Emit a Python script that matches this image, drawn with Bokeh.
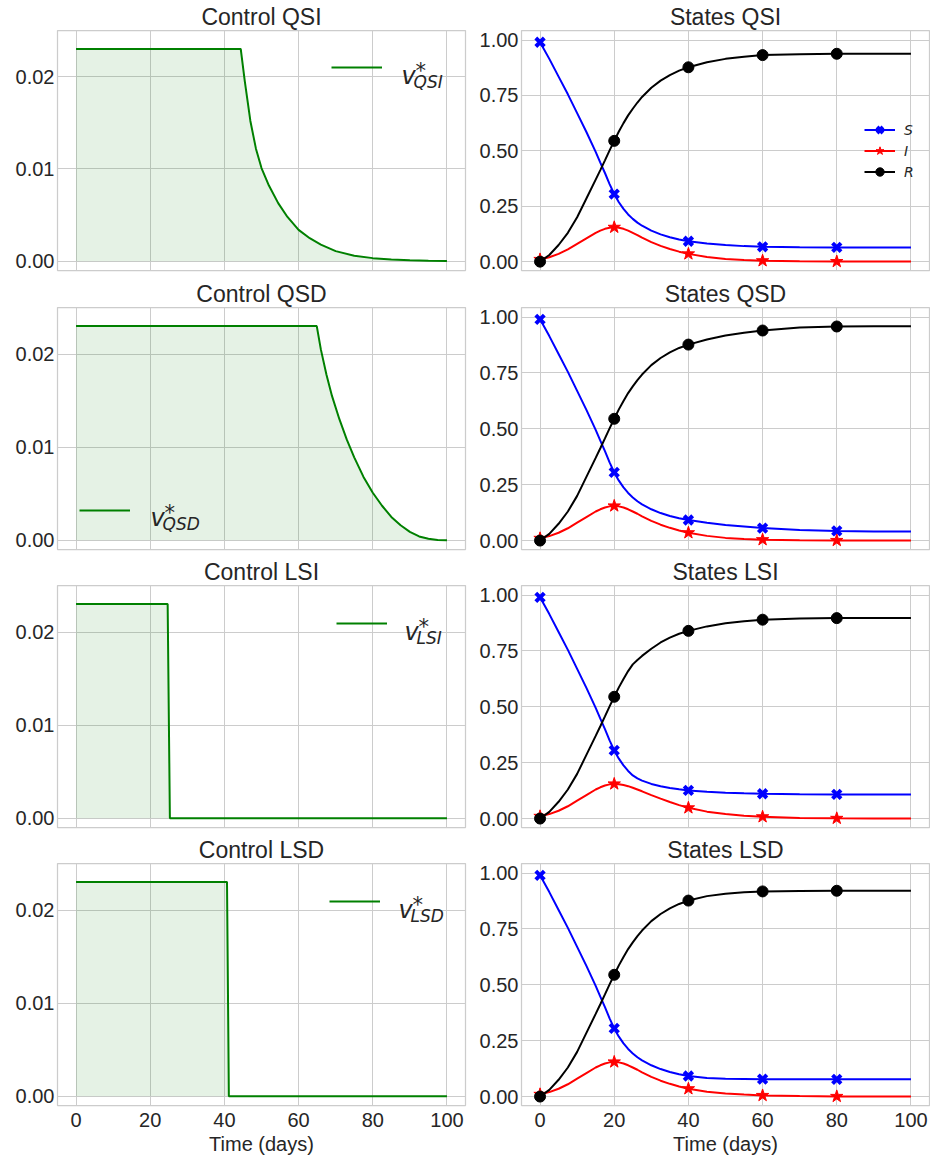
from bokeh.plotting import figure
from bokeh.layouts import column, row
from bokeh.models import (Legend, LegendItem, Label, FixedTicker,
                          NumeralTickFormatter, Range1d)
from bokeh.embed import file_html
from bokeh.resources import INLINE

# ---------------- data ----------------
t_states = [0, 2.5, 5, 7.5, 10, 12.5, 15, 16.25, 17.5, 18.75, 20, 21.25, 22.5, 23.75, 25,
            26.25, 27.5, 30, 32.5, 35, 37.5, 40, 45, 50, 55, 60, 70, 80, 90, 100]
marker_days = [0, 20, 40, 60, 80]

S_QSI = [0.99, 0.915, 0.835, 0.755, 0.67, 0.585, 0.495, 0.447, 0.40, 0.35, 0.305,
         0.268, 0.238, 0.213, 0.193, 0.176, 0.162, 0.14, 0.123, 0.11, 0.1, 0.092,
         0.082, 0.075, 0.07, 0.067, 0.065, 0.064, 0.064, 0.064]
I_QSI = [0.01, 0.02, 0.035, 0.055, 0.08, 0.105, 0.13, 0.14, 0.148, 0.153, 0.155,
         0.153, 0.148, 0.14, 0.13, 0.12, 0.108, 0.088, 0.071, 0.057, 0.045, 0.035,
         0.021, 0.012, 0.007, 0.004, 0.0015, 0.0005, 0.0002, 0.0001]
R_QSI = [0.0, 0.03, 0.075, 0.13, 0.2, 0.285, 0.37, 0.413, 0.457, 0.502, 0.545,
         0.587, 0.625, 0.66, 0.69, 0.718, 0.743, 0.785, 0.817, 0.842, 0.862, 0.877,
         0.9, 0.915, 0.925, 0.932, 0.936, 0.938, 0.938, 0.938]

S_QSD = [0.99, 0.915, 0.835, 0.755, 0.67, 0.585, 0.495, 0.447, 0.40, 0.35, 0.305,
         0.268, 0.238, 0.213, 0.193, 0.176, 0.162, 0.14, 0.123, 0.11, 0.1, 0.092,
         0.08, 0.07, 0.063, 0.056, 0.047, 0.043, 0.041, 0.041]
I_QSD = [0.01, 0.02, 0.035, 0.055, 0.08, 0.105, 0.13, 0.14, 0.148, 0.153, 0.155,
         0.153, 0.148, 0.14, 0.13, 0.12, 0.108, 0.088, 0.071, 0.057, 0.045, 0.035,
         0.021, 0.012, 0.007, 0.004, 0.0015, 0.0005, 0.0002, 0.0001]
R_QSD = [0.0, 0.03, 0.075, 0.13, 0.2, 0.285, 0.37, 0.413, 0.457, 0.502, 0.545,
         0.587, 0.625, 0.66, 0.69, 0.718, 0.743, 0.785, 0.817, 0.842, 0.862, 0.877,
         0.9, 0.918, 0.93, 0.94, 0.953, 0.958, 0.959, 0.959]

S_LSI = [0.99, 0.915, 0.835, 0.755, 0.67, 0.585, 0.495, 0.447, 0.40, 0.35, 0.305,
         0.268, 0.238, 0.213, 0.193, 0.18, 0.17, 0.155, 0.145, 0.137, 0.131, 0.126,
         0.12, 0.116, 0.113, 0.111, 0.109, 0.108, 0.108, 0.108]
I_LSI = [0.01, 0.02, 0.035, 0.055, 0.08, 0.105, 0.13, 0.14, 0.148, 0.153, 0.155,
         0.154, 0.15, 0.145, 0.138, 0.13, 0.122, 0.105, 0.089, 0.074, 0.06, 0.048,
         0.031, 0.02, 0.013, 0.008, 0.003, 0.001, 0.0004, 0.0002]
R_LSI = [0.0, 0.03, 0.075, 0.13, 0.2, 0.285, 0.37, 0.413, 0.457, 0.502, 0.545,
         0.587, 0.625, 0.66, 0.69, 0.71, 0.728, 0.76, 0.788, 0.81, 0.827, 0.84,
         0.86, 0.874, 0.883, 0.89, 0.895, 0.897, 0.898, 0.898]

S_LSD = [0.99, 0.915, 0.835, 0.755, 0.67, 0.585, 0.495, 0.447, 0.40, 0.35, 0.305,
         0.268, 0.238, 0.213, 0.193, 0.176, 0.162, 0.14, 0.123, 0.11, 0.1, 0.092,
         0.083, 0.08, 0.079, 0.078, 0.077, 0.077, 0.077, 0.077]
I_LSD = [0.01, 0.02, 0.035, 0.055, 0.08, 0.105, 0.13, 0.14, 0.148, 0.153, 0.155,
         0.153, 0.148, 0.14, 0.13, 0.12, 0.108, 0.088, 0.071, 0.057, 0.045, 0.035,
         0.022, 0.014, 0.009, 0.005, 0.002, 0.0007, 0.0003, 0.0001]
R_LSD = [0.0, 0.03, 0.075, 0.13, 0.2, 0.285, 0.37, 0.413, 0.457, 0.502, 0.545,
         0.587, 0.625, 0.66, 0.69, 0.718, 0.743, 0.785, 0.817, 0.842, 0.862, 0.877,
         0.897, 0.908, 0.914, 0.918, 0.92, 0.921, 0.921, 0.921]

t_QSI = [0, 44.4, 45.5, 47, 48.5, 50, 52, 54.5, 57, 60, 63, 66, 70, 75, 80, 85, 90, 95, 100]
v_QSI = [0.023, 0.023, 0.0195, 0.0152, 0.0122, 0.0101, 0.0082, 0.0063, 0.0048, 0.0034,
         0.0025, 0.0018, 0.0011, 0.0006, 0.00034, 0.0002, 0.0001, 0.00005, 0.00003]
t_QSD = [0, 64.9, 66, 67.5, 69, 71, 73, 75, 77.5, 80, 82.5, 85, 87.5, 90, 92.5, 95, 97.5, 100]
v_QSD = [0.023, 0.023, 0.0205, 0.0178, 0.0155, 0.013, 0.0108, 0.0089, 0.0068, 0.0051,
         0.0037, 0.0025, 0.0016, 0.0009, 0.0004, 0.00015, 0.00003, 0.0]
t_LSI = [0, 24.7, 25.3, 100]
v_LSI = [0.023, 0.023, 0.0, 0.0]
t_LSD = [0, 40.7, 41.2, 100]
v_LSD = [0.023, 0.023, 0.0, 0.0]

x_ticks = [0, 20, 40, 60, 80, 100]
control_ticks = [0.0, 0.01, 0.02]
state_ticks = [0.0, 0.25, 0.5, 0.75, 1.0]

names = ["QSI", "QSD", "LSI", "LSD"]
controls = {"QSI": (t_QSI, v_QSI), "QSD": (t_QSD, v_QSD),
            "LSI": (t_LSI, v_LSI), "LSD": (t_LSD, v_LSD)}
states = {"QSI": (S_QSI, I_QSI, R_QSI), "QSD": (S_QSD, I_QSD, R_QSD),
          "LSI": (S_LSI, I_LSI, R_LSI), "LSD": (S_LSD, I_LSD, R_LSD)}

# ---------------- style ----------------
FONT = "Liberation Sans"
MATH = "DejaVu Sans"
TXT = "#262626"
GRID = "#cccccc"
# legend placement (screen px from frame bottom-left): line x0, line y, v x, v baseline
leg_pos = {"QSI": (274, 203, 344, 195), "QSD": (22, 39, 93, 32),
           "LSI": (279, 204, 347, 196), "LSD": (272, 204, 341, 196)}
tops = [28, 30, 30, 30]
bottoms = [7, 6, 6, 53]
FRAME_H = 242


def style(p, yticks, fmt, show_x):
    p.outline_line_color = GRID
    p.outline_line_width = 1.25
    p.xgrid.ticker = FixedTicker(ticks=x_ticks)
    p.ygrid.ticker = FixedTicker(ticks=yticks)
    for g in (p.xgrid, p.ygrid):
        g.grid_line_color = GRID
        g.grid_line_width = 1
    p.yaxis.ticker = FixedTicker(ticks=yticks)
    p.yaxis.formatter = NumeralTickFormatter(format=fmt)
    p.xaxis.ticker = FixedTicker(ticks=x_ticks)
    for ax in (p.xaxis, p.yaxis):
        ax.axis_line_color = None
        ax.major_tick_line_color = None
        ax.minor_tick_line_color = None
        ax.major_label_text_font = FONT
        ax.major_label_text_font_size = "20px"
        ax.major_label_text_color = TXT
        ax.axis_label_text_font = FONT
        ax.axis_label_text_font_size = "20px"
        ax.axis_label_text_font_style = "normal"
        ax.axis_label_text_color = TXT
    p.yaxis.major_tick_out = 0
    p.yaxis.major_tick_in = 0
    p.yaxis.major_label_standoff = 3
    p.xaxis.major_label_standoff = 1
    p.xaxis.axis_label_standoff = 3
    if show_x:
        p.xaxis.axis_label = "Time (days)"
    else:
        p.xaxis.visible = False
    p.title.align = "center"
    p.title.text_font = FONT
    p.title.text_font_size = "23px"
    p.title.text_font_style = "normal"
    p.title.text_color = TXT
    p.title.standoff = 2


rows = []
for k, name in enumerate(names):
    last = k == len(names) - 1
    H = tops[k] + FRAME_H + bottoms[k]
    # ---- control panel ----
    pl = figure(width=469, height=H, title="Control " + name,
                x_range=Range1d(-5, 105), y_range=Range1d(-0.001, 0.025),
                output_backend="svg", toolbar_location=None,
                min_border_left=57, min_border_right=4, min_border_top=tops[k],
                min_border_bottom=bottoms[k])
    style(pl, control_ticks, "0.00", last)
    tc, vc = controls[name]
    pl.varea(x=tc, y1=[0.0] * len(tc), y2=vc, fill_color="green", fill_alpha=0.1)
    rl = pl.line(tc, vc, line_color="green", line_width=2)
    lx, ly, vx, vb = leg_pos[name]
    pl.add_layout(Legend(items=[LegendItem(label=" ", renderers=[rl])],
                         location=(lx, ly - 10), glyph_width=51, glyph_height=20,
                         label_height=20, label_width=0, label_standoff=0,
                         padding=0, spacing=0, margin=0,
                         background_fill_alpha=0, border_line_alpha=0,
                         label_text_font_size="1px"))
    pl.add_layout(Label(x=vx, y=vb, x_units="screen", y_units="screen", text="v",
                        text_font=MATH, text_font_style="italic", text_font_size="24px",
                        text_color=TXT, text_baseline="alphabetic"))
    pl.add_layout(Label(x=vx + 14, y=vb + 5, x_units="screen", y_units="screen", text="*",
                        text_font=MATH, text_font_size="21px",
                        text_color=TXT, text_baseline="alphabetic"))
    pl.add_layout(Label(x=vx + 12, y=vb - 6, x_units="screen", y_units="screen", text=name,
                        text_font=MATH, text_font_style="italic", text_font_size="17px",
                        text_color=TXT, text_baseline="alphabetic"))

    # ---- states panel ----
    pr = figure(width=461, height=H, title="States " + name,
                x_range=Range1d(-5, 105), y_range=Range1d(-0.04, 1.043),
                output_backend="svg", toolbar_location=None,
                min_border_left=52, min_border_right=1, min_border_top=tops[k],
                min_border_bottom=bottoms[k])
    style(pr, state_ticks, "0.00", last)
    S, I, R = states[name]
    idx = [i for i, t in enumerate(t_states) if t in marker_days]
    tm = [t_states[i] for i in idx]
    ls = pr.line(t_states, S, line_color="blue", line_width=2)
    ms = pr.scatter(tm, [S[i] for i in idx], marker="x", size=12, line_color="blue",
                    line_width=4)
    li = pr.line(t_states, I, line_color="red", line_width=2)
    mi = pr.scatter(tm, [I[i] for i in idx], marker="star", size=13, fill_color="red",
                    line_color="red")
    lr = pr.line(t_states, R, line_color="black", line_width=2)
    mr = pr.scatter(tm, [R[i] for i in idx], marker="circle", size=11, fill_color="black",
                    line_color="black")
    if k == 0:
        pr.add_layout(Legend(items=[LegendItem(label="S", renderers=[ls, ms]),
                                    LegendItem(label="I", renderers=[li, mi]),
                                    LegendItem(label="R", renderers=[lr, mr])],
                             location=(343, 88), glyph_width=31, glyph_height=21,
                             label_height=21, label_standoff=9, padding=0, spacing=0,
                             margin=0, background_fill_alpha=0, border_line_alpha=0,
                             label_text_font=MATH, label_text_font_style="italic",
                             label_text_font_size="14px", label_text_color=TXT))
    rows.append(row(pl, pr))

layout = column(*rows)
open("out.html", "w").write(file_html(layout, INLINE))
